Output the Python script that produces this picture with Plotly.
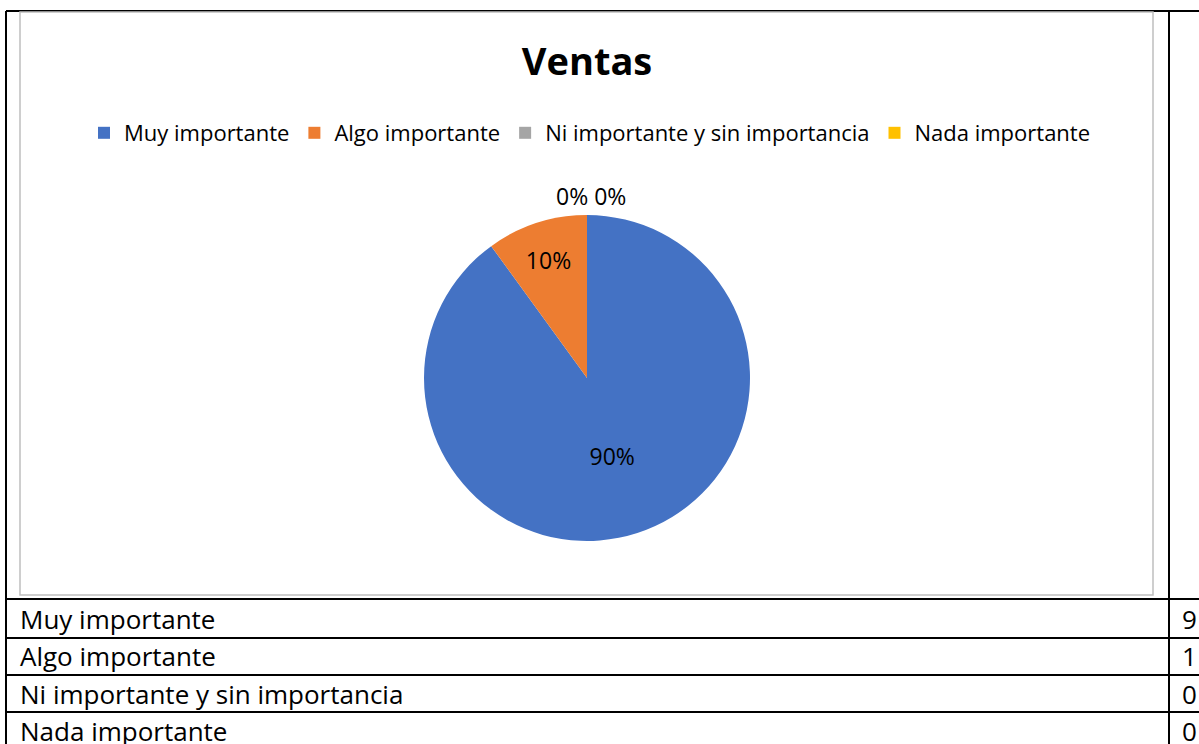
import plotly.graph_objects as go

# data
categorias = ["Muy importante", "Algo importante", "Ni importante y sin importancia", "Nada importante"]
valores = [9, 1, 0, 0]
colores = ["#4472C4", "#ED7D31", "#A5A5A5", "#FFC000"]
titulo = "Ventas"

W, H = 1199, 744
FONT = "Open Sans"

def px(x):  # pixel -> paper x
    return x / W

def py(y):  # pixel -> paper y (from top)
    return 1 - y / H

total = sum(valores)
# zero slices get their labels together above the pie (as in the original chart)
posiciones = ["inside" if v > 0 else "none" for v in valores]
ceros = " ".join("{:.0%}".format(v / total) for v in valores if v == 0)

fig = go.Figure()

fig.add_trace(go.Pie(
    labels=categorias, values=valores,
    marker=dict(colors=colores, line=dict(width=0)),
    sort=False, direction="clockwise", rotation=0,
    texttemplate="%{percent:.0%}",
    textposition=posiciones,
    textfont=dict(family=FONT, size=23, color="black"),
    insidetextorientation="horizontal",
    domain=dict(x=[px(424), px(750)], y=[py(541), py(215)]),
    hoverinfo="label+value+percent",
))

# table lines (document table around the chart)
lines = [
    (6, 11, 1199, 11), (6, 11, 6, 744), (1169, 11, 1169, 744),
    (6, 599, 1199, 599), (6, 638, 1199, 638), (6, 675, 1199, 675), (6, 712, 1199, 712),
]
shapes = [dict(type="line", xref="paper", yref="paper", x0=px(a), y0=py(b), x1=px(c), y1=py(d),
               line=dict(color="black", width=2)) for a, b, c, d in lines]
# chart area border
shapes.append(dict(type="rect", xref="paper", yref="paper", x0=px(20), y0=py(595), x1=px(1153), y1=py(12),
                   line=dict(color="#BFBFBF", width=1.5)))

annotations = []
if ceros:
    annotations.append(dict(x=px(591), y=py(196), xref="paper", yref="paper", text=ceros, showarrow=False,
                            xanchor="center", yanchor="middle", font=dict(family=FONT, size=23, color="black")))

# table rows
fila_top = 599
fila_h = 37.5
for i, (cat, v) in enumerate(zip(categorias, valores)):
    yc = fila_top + fila_h * i + fila_h / 2 + 1
    annotations.append(dict(x=px(18), y=py(yc), xref="paper", yref="paper", text=cat, showarrow=False,
                            xanchor="left", yanchor="middle", font=dict(family=FONT, size=26, color="black")))
    annotations.append(dict(x=px(1180), y=py(yc), xref="paper", yref="paper", text=str(v), showarrow=False,
                            xanchor="left", yanchor="middle", font=dict(family=FONT, size=26, color="black")))

fig.update_layout(
    width=W, height=H,
    margin=dict(l=0, r=0, t=0, b=0),
    paper_bgcolor="white", plot_bgcolor="white",
    title=dict(text="<b>" + titulo + "</b>", x=px(587), xanchor="center", y=py(62), yanchor="middle",
               font=dict(family=FONT, size=38, color="black")),
    legend=dict(orientation="h", x=px(590), xanchor="center", y=py(133), yanchor="middle",
                font=dict(family=FONT, size=22, color="black"), traceorder="normal",
                itemwidth=30),
    shapes=shapes, annotations=annotations,
    showlegend=True,
)

fig.write_html("out.html", config={"displayModeBar": False},
               post_script="document.body.style.margin='0';document.body.style.overflow='hidden';")
